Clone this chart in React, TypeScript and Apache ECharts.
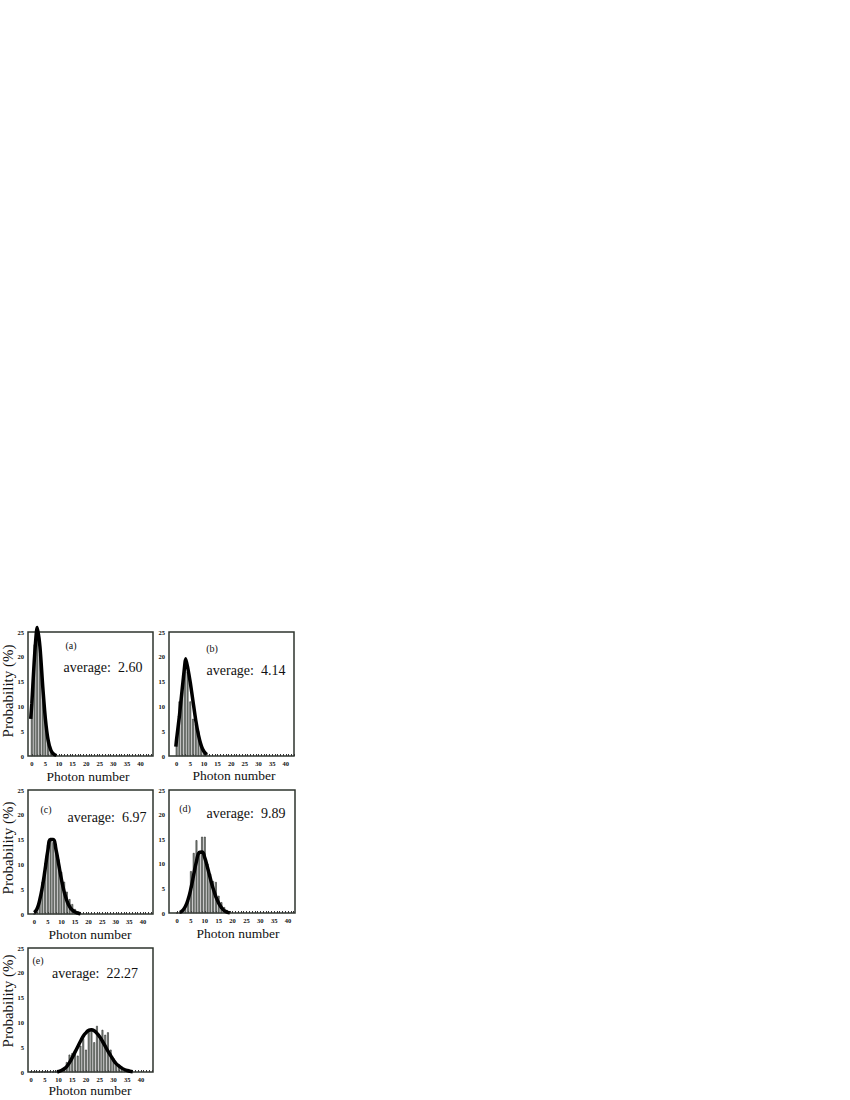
import React, { useEffect, useRef } from "react";
import * as echarts from "echarts";

// Tick labels
const xTickLabels = [0, 5, 10, 15, 20, 25, 30, 35, 40];
const xMinorTicks = [0,1,2,3,4,5,6,7,8,9,10,11,12,13,14,15,16,17,18,19,20,21,22,23,24,25,26,27,28,29,30,31,32,33,34,35,36,37,38,39,40,41,42,43,44];
const panelLabels = ["(a)", "(b)", "(c)", "(d)", "(e)"];
const averages = ["2.60", "4.14", "6.97", "9.89", "22.27"];

// Histogram values (%), index = photon number
const histA = [10.2, 22.5, 25.0, 20.5, 14.5, 7.5, 3.5, 1.5, 0.6, 0.2];
const histB = [3.5, 11.0, 13.0, 19.5, 17.0, 11.0, 7.5, 6.5, 5.0, 2.5, 1.2, 0.5, 0.2];
const histC = [0, 0.5, 2.5, 6.5, 10.3, 14.0, 15.3, 14.5, 13.5, 11.0, 8.5, 6.5, 4.5, 3.0, 2.0, 1.0, 0.5, 0.2];
const histD = [0, 0, 0.5, 1.0, 2.5, 8.5, 12.2, 14.8, 12.5, 15.5, 15.5, 10.0, 8.0, 6.5, 6.3, 3.5, 2.2, 1.2, 0.6, 0.3];
const histE = [0, 0, 0, 0, 0, 0, 0, 0, 0, 0, 0, 0.5, 1.0, 2.0, 3.5, 3.8, 4.0, 3.3, 5.3, 6.8, 4.5, 8.7, 8.8, 6.0, 9.3, 7.2, 8.5, 7.5, 8.0, 4.5, 2.8, 1.8, 1.1, 0.6, 0.3];

// Fitted curves [photon number, probability %]
const curveA = [[-0.4, 7.5], [0, 10.5], [1, 20.0], [2, 25.9], [3, 22.0], [4, 14.2], [5, 7.5], [6, 3.2], [7, 1.2], [8, 0.4], [9, 0.1]];
const curveB = [[-0.3, 1.9], [0, 3.5], [1, 8.0], [2, 13.3], [3, 18.5], [3.3, 19.6], [4, 18.0], [5, 14.8], [6, 11.0], [7, 7.2], [8, 4.2], [9, 2.1], [10, 0.9], [11, 0.3]];
const curveC = [[0, 0.3], [1, 1.0], [2, 2.8], [3, 5.5], [4, 9.0], [5, 12.8], [6, 15.0], [7, 15.0], [8, 13.0], [9, 10.0], [10, 7.0], [11, 4.5], [12, 2.7], [13, 1.5], [14, 0.8], [15, 0.4], [16, 0.2], [17, 0.05]];
const curveD = [[1, 0.1], [2, 0.5], [3, 1.3], [4, 2.8], [5, 5.0], [6, 7.8], [7, 10.5], [8, 12.3], [9, 12.4], [10, 11.2], [11, 9.2], [12, 7.0], [13, 5.0], [14, 3.3], [15, 2.0], [16, 1.1], [17, 0.5], [18, 0.2], [19, 0.05]];
const curveE = [[9.5, 0.0], [10, 0.1], [11, 0.3], [12, 0.6], [13, 1.1], [14, 1.9], [15, 2.9], [16, 4.0], [17, 5.1], [18, 6.2], [19, 7.2], [20, 7.9], [21, 8.4], [22, 8.5], [23, 8.3], [24, 7.8], [25, 7.1], [26, 6.2], [27, 5.2], [28, 4.2], [29, 3.3], [30, 2.4], [31, 1.7], [32, 1.2], [33, 0.8], [34, 0.5], [35, 0.3], [36, 0.15], [37, 0.05]];

const FONT = "'Liberation Serif', 'Noto Serif', serif";

type Panel = {
  grid: { left: number; top: number; width: number; height: number };
  xmin: number;
  xmax: number;
  hist: number[];
  curve: number[][];
  smooth: number | boolean;
  label: [number, number];
  avg: [number, number];
  photon: [number, number] | null;
  prob: [number, number] | null;
};

const panels: Panel[] = [
  { grid: { left: 28, top: 632, width: 125, height: 124 }, xmin: -1.4, xmax: 44.6, hist: histA, curve: curveA, smooth: 0.25, label: [71, 645], avg: [103, 667], photon: [88, 776], prob: [8, 691] },
  { grid: { left: 169, top: 632, width: 125, height: 124 }, xmin: -2.8, xmax: 43.0, hist: histB, curve: curveB, smooth: 0.2, label: [212, 648], avg: [246, 670], photon: [234, 775], prob: null },
  { grid: { left: 28, top: 790, width: 125, height: 124 }, xmin: -2.3, xmax: 43.7, hist: histC, curve: curveC, smooth: true, label: [46, 809], avg: [107, 817], photon: [90, 934], prob: [8, 848] },
  { grid: { left: 169, top: 790, width: 126, height: 123 }, xmin: -2.9, xmax: 42.5, hist: histD, curve: curveD, smooth: true, label: [185, 808], avg: [246, 813], photon: [238, 933], prob: null },
  { grid: { left: 28, top: 948, width: 125, height: 124 }, xmin: -1.1, xmax: 44.4, hist: histE, curve: curveE, smooth: true, label: [38, 960], avg: [95, 973], photon: [90, 1090], prob: [8, 1001] },
];

function buildOption() {
  const grid: any[] = [];
  const xAxis: any[] = [];
  const yAxis: any[] = [];
  const series: any[] = [];
  const graphic: any[] = [];

  panels.forEach((p, i) => {
    grid.push({ ...p.grid, show: true, borderColor: "#2e352e", borderWidth: 1.5, backgroundColor: "transparent" });
    xAxis.push({
      gridIndex: i,
      type: "value",
      min: p.xmin,
      max: p.xmax,
      axisLine: { show: false },
      axisTick: { show: true, customValues: xMinorTicks, inside: true, length: 2, lineStyle: { color: "#333", width: 1 } },
      axisLabel: { customValues: xTickLabels, fontSize: 6.5, fontWeight: "bold", margin: 4, color: "#111", fontFamily: FONT },
      splitLine: { show: false },
    });
    yAxis.push({
      gridIndex: i,
      type: "value",
      min: 0,
      max: 25,
      interval: 5,
      axisLine: { show: false },
      axisTick: { show: false },
      axisLabel: { fontSize: 6.5, fontWeight: "bold", margin: 4, color: "#111", fontFamily: FONT },
      splitLine: { show: false },
    });
    series.push({
      type: "bar",
      xAxisIndex: i,
      yAxisIndex: i,
      data: p.hist.map((v, n) => [n, v]),
      barWidth: 1.8,
      itemStyle: { color: "#8a958a", borderColor: "#2a2a2a", borderWidth: 0.6 },
      z: 2,
    });
    series.push({
      type: "line",
      xAxisIndex: i,
      yAxisIndex: i,
      data: p.curve,
      smooth: p.smooth,
      symbol: "none",
      showSymbol: false,
      clip: false,
      lineStyle: { color: "#000", width: 3.5 },
      z: 3,
    });
    graphic.push({
      type: "text",
      x: p.label[0],
      y: p.label[1],
      style: { text: panelLabels[i], font: `10px ${FONT}`, fill: "#111", textAlign: "center", textVerticalAlign: "middle" },
    });
    graphic.push({
      type: "text",
      x: p.avg[0],
      y: p.avg[1],
      style: { text: "average:  " + averages[i], font: `14px ${FONT}`, fill: "#111", textAlign: "center", textVerticalAlign: "middle" },
    });
    if (p.photon) {
      graphic.push({
        type: "text",
        x: p.photon[0],
        y: p.photon[1],
        style: { text: "Photon number", font: `13.5px ${FONT}`, fill: "#111", textAlign: "center", textVerticalAlign: "middle" },
      });
    }
    if (p.prob) {
      graphic.push({
        type: "text",
        x: p.prob[0],
        y: p.prob[1],
        rotation: Math.PI / 2,
        style: { text: "Probability (%)", font: `15px ${FONT}`, fill: "#111", textAlign: "center", textVerticalAlign: "middle" },
      });
    }
  });

  return { animation: false, backgroundColor: "#fff", grid, xAxis, yAxis, series, graphic };
}

export default function App() {
  const ref = useRef<HTMLDivElement>(null);
  useEffect(() => {
    if (!ref.current) return;
    const chart = echarts.init(ref.current, null, { renderer: "svg" });
    chart.setOption(buildOption());
    return () => chart.dispose();
  }, []);
  return <div ref={ref} style={{ position: "absolute", left: 0, top: 0, width: 850, height: 1100 }} />;
}
